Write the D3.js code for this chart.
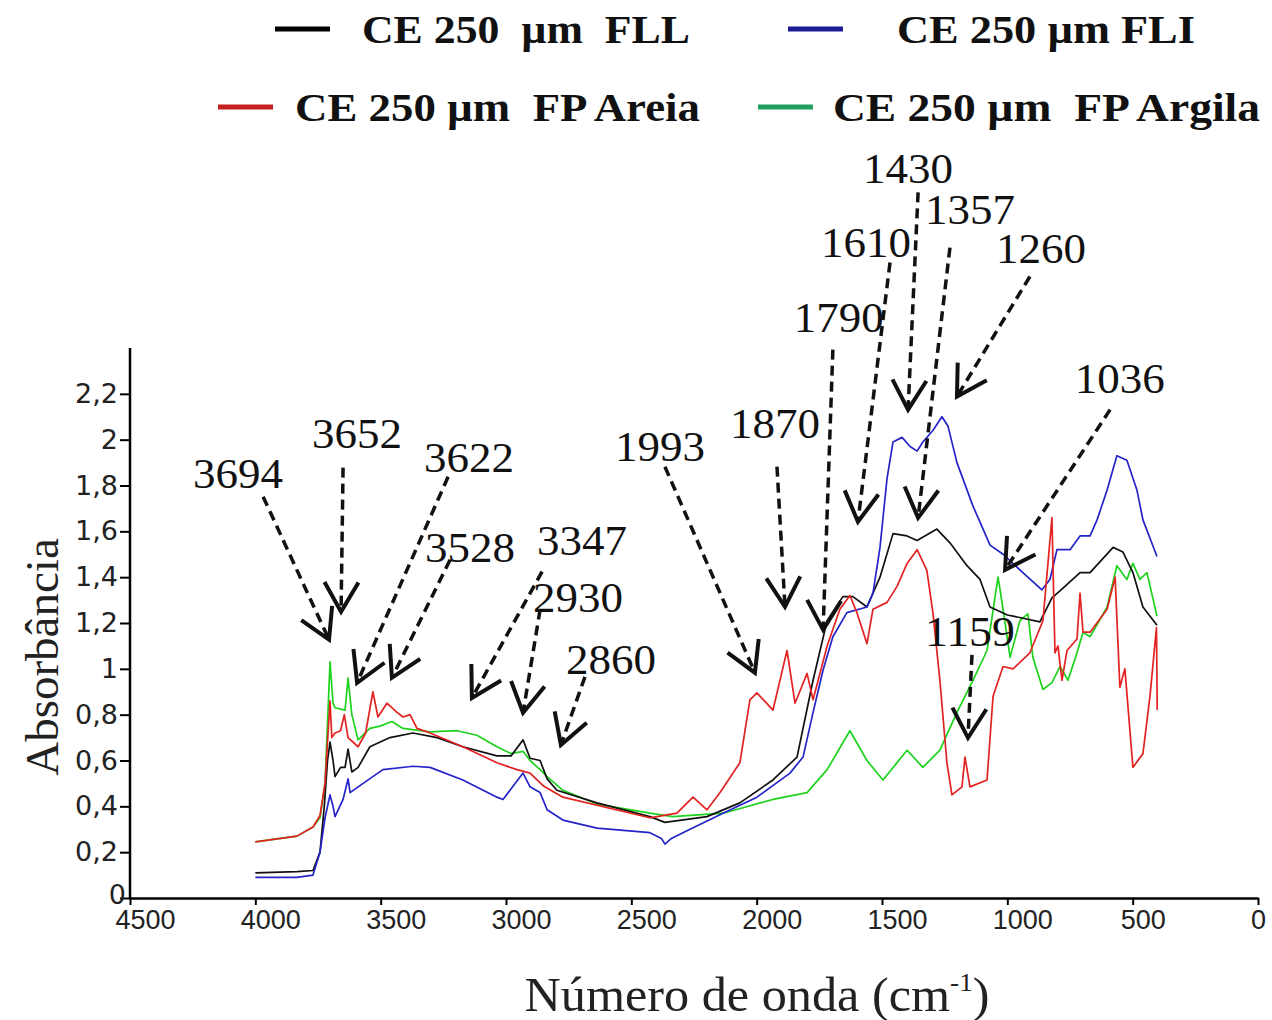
<!DOCTYPE html>
<html>
<head>
<meta charset="utf-8">
<script src="https://d3js.org/d3.v7.min.js"></script>
<style>
  body { margin: 0; background: #fff; }
  text { white-space: pre; }
</style>
</head>
<body>
<svg id="chart" width="1272" height="1020"></svg>
<script>
// [numero de onda, absorbancia]
var fll = [[4000,0.11],[3834,0.115],[3770,0.12],[3742,0.2],[3725,0.4],[3712,0.6],[3702,0.68],[3690,0.6],[3682,0.53],
  [3660,0.57],[3642,0.57],[3630,0.65],[3615,0.55],[3590,0.57],[3543,0.66],[3463,0.70],[3371,0.72],[3275,0.70],
  [3172,0.66],[3036,0.62],[2980,0.62],[2932,0.69],[2904,0.61],[2864,0.60],[2836,0.52],[2797,0.47],[2637,0.415],
  [2426,0.355],[2366,0.33],[2198,0.355],[2067,0.415],[1935,0.515],[1839,0.615],[1775,0.95],[1719,1.21],
  [1656,1.315],[1616,1.315],[1560,1.27],[1508,1.40],[1456,1.59],[1400,1.58],[1360,1.56],[1281,1.61],[1229,1.55],
  [1161,1.45],[1109,1.39],[1069,1.27],[1000,1.235],[977,1.23],[870,1.205],[822,1.31],[790,1.34],[710,1.42],
  [670,1.42],[578,1.53],[539,1.51],[499,1.42],[459,1.27],[403,1.19]];

var fli = [[4000,0.09],[3834,0.09],[3770,0.1],[3742,0.2],[3722,0.35],[3702,0.45],[3690,0.40],[3682,0.355],
  [3650,0.43],[3630,0.52],[3622,0.46],[3570,0.50],[3491,0.56],[3371,0.575],[3303,0.57],[3172,0.515],[3036,0.44],
  [3012,0.43],[2932,0.545],[2904,0.485],[2864,0.46],[2836,0.385],[2773,0.34],[2637,0.305],[2426,0.285],
  [2380,0.26],[2366,0.235],[2340,0.26],[2266,0.30],[2134,0.37],[1999,0.44],[1867,0.545],[1815,0.615],
  [1775,0.81],[1735,0.995],[1696,1.14],[1640,1.245],[1560,1.27],[1536,1.33],[1508,1.53],[1480,1.83],
  [1456,1.99],[1420,2.01],[1388,1.97],[1360,1.95],[1337,1.99],[1297,2.04],[1261,2.10],[1237,2.06],[1201,1.90],
  [1137,1.71],[1109,1.64],[1069,1.54],[1017,1.50],[938,1.42],[862,1.345],[830,1.39],[802,1.52],[750,1.52],
  [710,1.58],[670,1.58],[642,1.65],[602,1.78],[563,1.93],[523,1.91],[483,1.78],[459,1.65],[403,1.49]];

var areia = [[4000,0.245],[3834,0.27],[3770,0.31],[3742,0.36],[3722,0.5],[3702,0.86],[3695,0.70],[3682,0.72],
  [3660,0.73],[3645,0.80],[3630,0.70],[3590,0.66],[3560,0.72],[3531,0.90],[3511,0.79],[3475,0.85],[3435,0.81],
  [3411,0.79],[3383,0.80],[3355,0.74],[3303,0.72],[3172,0.66],[3036,0.59],[2956,0.56],[2904,0.545],[2852,0.49],
  [2773,0.44],[2426,0.35],[2318,0.37],[2254,0.44],[2198,0.385],[2146,0.46],[2067,0.59],[2027,0.865],
  [1999,0.895],[1935,0.82],[1879,1.08],[1847,0.85],[1799,0.98],[1775,0.865],[1719,1.10],[1668,1.26],
  [1628,1.32],[1600,1.245],[1560,1.11],[1536,1.26],[1480,1.29],[1440,1.36],[1400,1.46],[1360,1.52],
  [1321,1.43],[1297,1.245],[1269,0.95],[1241,0.59],[1221,0.45],[1181,0.485],[1169,0.615],[1149,0.485],
  [1081,0.515],[1057,0.88],[1017,1.01],[977,1.0],[910,1.07],[858,1.21],[822,1.66],[810,1.07],[798,1.10],
  [782,0.95],[762,1.08],[722,1.13],[710,1.33],[698,1.16],[670,1.16],[602,1.26],[570,1.40],[551,0.92],
  [531,1.0],[499,0.57],[459,0.63],[431,0.88],[405,1.18],[402,0.82]];

var argila = [[4000,0.245],[3834,0.27],[3770,0.31],[3742,0.35],[3722,0.5],[3702,1.03],[3690,0.85],[3682,0.83],
  [3642,0.82],[3630,0.96],[3615,0.80],[3590,0.69],[3543,0.74],[3503,0.75],[3455,0.77],[3411,0.74],[3303,0.725],
  [3196,0.73],[3116,0.71],[3036,0.66],[2980,0.63],[2932,0.64],[2904,0.60],[2864,0.56],[2836,0.53],[2773,0.47],
  [2637,0.41],[2426,0.37],[2334,0.355],[2134,0.37],[1935,0.43],[1799,0.46],[1719,0.56],[1628,0.73],[1560,0.60],
  [1496,0.515],[1400,0.645],[1337,0.57],[1269,0.645],[1201,0.81],[1137,0.95],[1081,1.08],[1037,1.40],
  [1017,1.26],[989,1.05],[950,1.21],[918,1.24],[898,1.05],[858,0.91],[822,0.94],[790,1.01],[758,0.95],
  [722,1.07],[698,1.16],[670,1.14],[602,1.27],[563,1.45],[523,1.39],[499,1.46],[471,1.39],[443,1.42],[403,1.23]];

var seriesNames = ["CE 250  \u00b5m  FLL", "CE 250 \u00b5m FLI", "CE 250 \u00b5m  FP Areia", "CE 250 \u00b5m  FP Argila"];
var xTicks = [4500, 4000, 3500, 3000, 2500, 2000, 1500, 1000, 500, 0];
var yTicks = [0, 0.2, 0.4, 0.6, 0.8, 1, 1.2, 1.4, 1.6, 1.8, 2, 2.2];

// peak labels: text spot, arrow tail and arrow tip, all in data units
var peaks = [
  {label: "3694", at: [4069, 1.79],  from: [3969, 1.751], to: [3706, 1.127]},
  {label: "3652", at: [3594, 1.965], from: [3650, 1.878], to: [3658, 1.249]},
  {label: "3622", at: [3148, 1.86],  from: [3231, 1.838], to: [3594, 0.939]},
  {label: "3528", at: [3144, 1.467], from: [3223, 1.476], to: [3455, 0.961]},
  {label: "3347", at: [2697, 1.498], from: [2856, 1.424], to: [3136, 0.873]},
  {label: "2930", at: [2713, 1.249], from: [2864, 1.258], to: [2932, 0.808]},
  {label: "2860", at: [2581, 0.978], from: [2685, 0.965], to: [2781, 0.668]},
  {label: "1993", at: [2386, 1.908], from: [2366, 1.882], to: [2007, 0.983]},
  {label: "1870", at: [1927, 2.009], from: [1919, 1.882], to: [1887, 1.271]},
  {label: "1790", at: [1672, 2.472], from: [1696, 2.393], to: [1735, 1.17]},
  {label: "1610", at: [1564, 2.799], from: [1468, 2.773], to: [1596, 1.642]},
  {label: "1430", at: [1396, 3.118], from: [1356, 3.079], to: [1396, 2.131]},
  {label: "1357", at: [1149, 2.939], from: [1229, 2.838], to: [1356, 1.659]},
  {label: "1260", at: [866, 2.773],  from: [910, 2.712],  to: [1201, 2.188]},
  {label: "1036", at: [551, 2.205],  from: [590, 2.131],  to: [1009, 1.432]},
  {label: "1159", at: [1149, 1.1],   from: [1141, 1.061], to: [1157, 0.699]}
];

var svg = d3.select("#chart");

var x = d3.scaleLinear().domain([4500, 0]).range([130, 1258]);
var y = d3.scaleLinear().domain([0, 2.4]).range([898, 348]);

var series = [
  {data: argila, color: "#1ed21e"},
  {data: fll,    color: "#111111"},
  {data: fli,    color: "#2424c8"},
  {data: areia,  color: "#e32222"}
];

var line = d3.line()
  .x(function(d) { return x(d[0]); })
  .y(function(d) { return y(d[1]); });

svg.append("g").selectAll("path")
  .data(series)
  .enter().append("path")
  .attr("d", function(s) { return line(s.data); })
  .attr("fill", "none")
  .attr("stroke", function(s) { return s.color; })
  .attr("stroke-width", 1.7)
  .attr("stroke-linejoin", "round");

// axes
var yAxis = d3.axisLeft(y)
  .tickValues(yTicks)
  .tickSize(10)
  .tickSizeOuter(0)
  .tickFormat(function(d) { return String(+d.toFixed(1)).replace(".", ","); });

var gy = svg.append("g").attr("transform", "translate(130,0)").call(yAxis);
gy.select(".domain").attr("stroke-width", 2.5).attr("d", "M0," + y(2.4) + "V" + y(0));
gy.selectAll(".tick line").attr("stroke-width", 2);
gy.selectAll(".tick text")
  .attr("font-family", "DejaVu Sans")
  .attr("font-size", 27)
  .attr("fill", "#222")
  .attr("x", -12);
gy.selectAll(".tick").filter(function(d) { return d === 0; }).select("text").attr("x", -4).attr("dy", "0.2em");

var xAxis = d3.axisBottom(x)
  .tickValues(xTicks)
  .tickSize(7)
  .tickSizeOuter(0)
  .tickFormat(d3.format("d"));

var gx = svg.append("g").attr("transform", "translate(0,898)").call(xAxis);
gx.select(".domain").attr("stroke-width", 2.5);
gx.selectAll(".tick line").attr("stroke-width", 2);
gx.selectAll(".tick text")
  .attr("font-family", "Liberation Sans")
  .attr("font-size", 27)
  .attr("fill", "#222")
  .attr("y", 12)
  .attr("dy", "0.71em")
  .attr("dx", function(d) { return (String(d).length - 1) * 5; });

// axis titles
svg.append("text")
  .attr("transform", "translate(58,657) rotate(-90)")
  .attr("text-anchor", "middle")
  .attr("font-family", "Liberation Serif")
  .attr("font-size", 47)
  .attr("fill", "#222")
  .text("Absorb\u00e2ncia");

var xt = svg.append("text")
  .attr("x", 757)
  .attr("y", 1011)
  .attr("text-anchor", "middle")
  .attr("font-family", "Liberation Serif")
  .attr("font-size", 48)
  .attr("fill", "#222")
  .attr("textLength", 465)
  .attr("lengthAdjust", "spacingAndGlyphs");
xt.append("tspan").text("N\u00famero de onda (cm");
xt.append("tspan").attr("font-size", 26).attr("dy", -20).text("-1");
xt.append("tspan").attr("dy", 20).text(")");

// legend
var legendSpots = [
  {lx: 275, ty: 29, tx: 362, w: 328},
  {lx: 788, ty: 29, tx: 897, w: 298},
  {lx: 218, ty: 107, tx: 295, w: 405},
  {lx: 758, ty: 107, tx: 833, w: 427}
];
var legendColors = ["#000000", "#1c1c96", "#c42020", "#1fa060"];

var lg = svg.append("g").selectAll("g")
  .data(seriesNames)
  .enter().append("g");
lg.append("line")
  .attr("x1", function(d, i) { return legendSpots[i].lx; })
  .attr("x2", function(d, i) { return legendSpots[i].lx + 55; })
  .attr("y1", function(d, i) { return legendSpots[i].ty; })
  .attr("y2", function(d, i) { return legendSpots[i].ty; })
  .attr("stroke", function(d, i) { return legendColors[i]; })
  .attr("stroke-width", 5);
lg.append("text")
  .attr("x", function(d, i) { return legendSpots[i].tx; })
  .attr("y", function(d, i) { return legendSpots[i].ty + 14; })
  .attr("font-family", "Liberation Serif")
  .attr("font-weight", "bold")
  .attr("font-size", 41)
  .attr("fill", "#111")
  .attr("textLength", function(d, i) { return legendSpots[i].w; })
  .attr("lengthAdjust", "spacingAndGlyphs")
  .text(function(d) { return d; });

// peak annotations
var ag = svg.append("g").selectAll("g")
  .data(peaks)
  .enter().append("g");

ag.append("text")
  .attr("x", function(d) { return x(d.at[0]); })
  .attr("y", function(d) { return y(d.at[1]); })
  .attr("text-anchor", "middle")
  .attr("font-family", "Liberation Serif")
  .attr("font-size", 42)
  .attr("fill", "#111")
  .attr("textLength", 90)
  .attr("lengthAdjust", "spacingAndGlyphs")
  .text(function(d) { return d.label; });

ag.append("line")
  .attr("x1", function(d) { return x(d.from[0]); })
  .attr("y1", function(d) { return y(d.from[1]); })
  .attr("x2", function(d) { return x(d.to[0]); })
  .attr("y2", function(d) { return y(d.to[1]); })
  .attr("stroke", "#111")
  .attr("stroke-width", 3.5)
  .attr("stroke-dasharray", "10,6");

ag.append("path")
  .attr("d", function(d) {
    var x0 = x(d.from[0]), y0 = y(d.from[1]), x1 = x(d.to[0]), y1 = y(d.to[1]);
    var a = Math.atan2(y1 - y0, x1 - x0), L = 34, phi = Math.PI / 6;
    var p1 = [x1 - L * Math.cos(a - phi), y1 - L * Math.sin(a - phi)];
    var p2 = [x1 - L * Math.cos(a + phi), y1 - L * Math.sin(a + phi)];
    return "M" + p1 + "L" + x1 + "," + y1 + "L" + p2;
  })
  .attr("fill", "none")
  .attr("stroke", "#111")
  .attr("stroke-width", 4);
</script>
</body>
</html>
